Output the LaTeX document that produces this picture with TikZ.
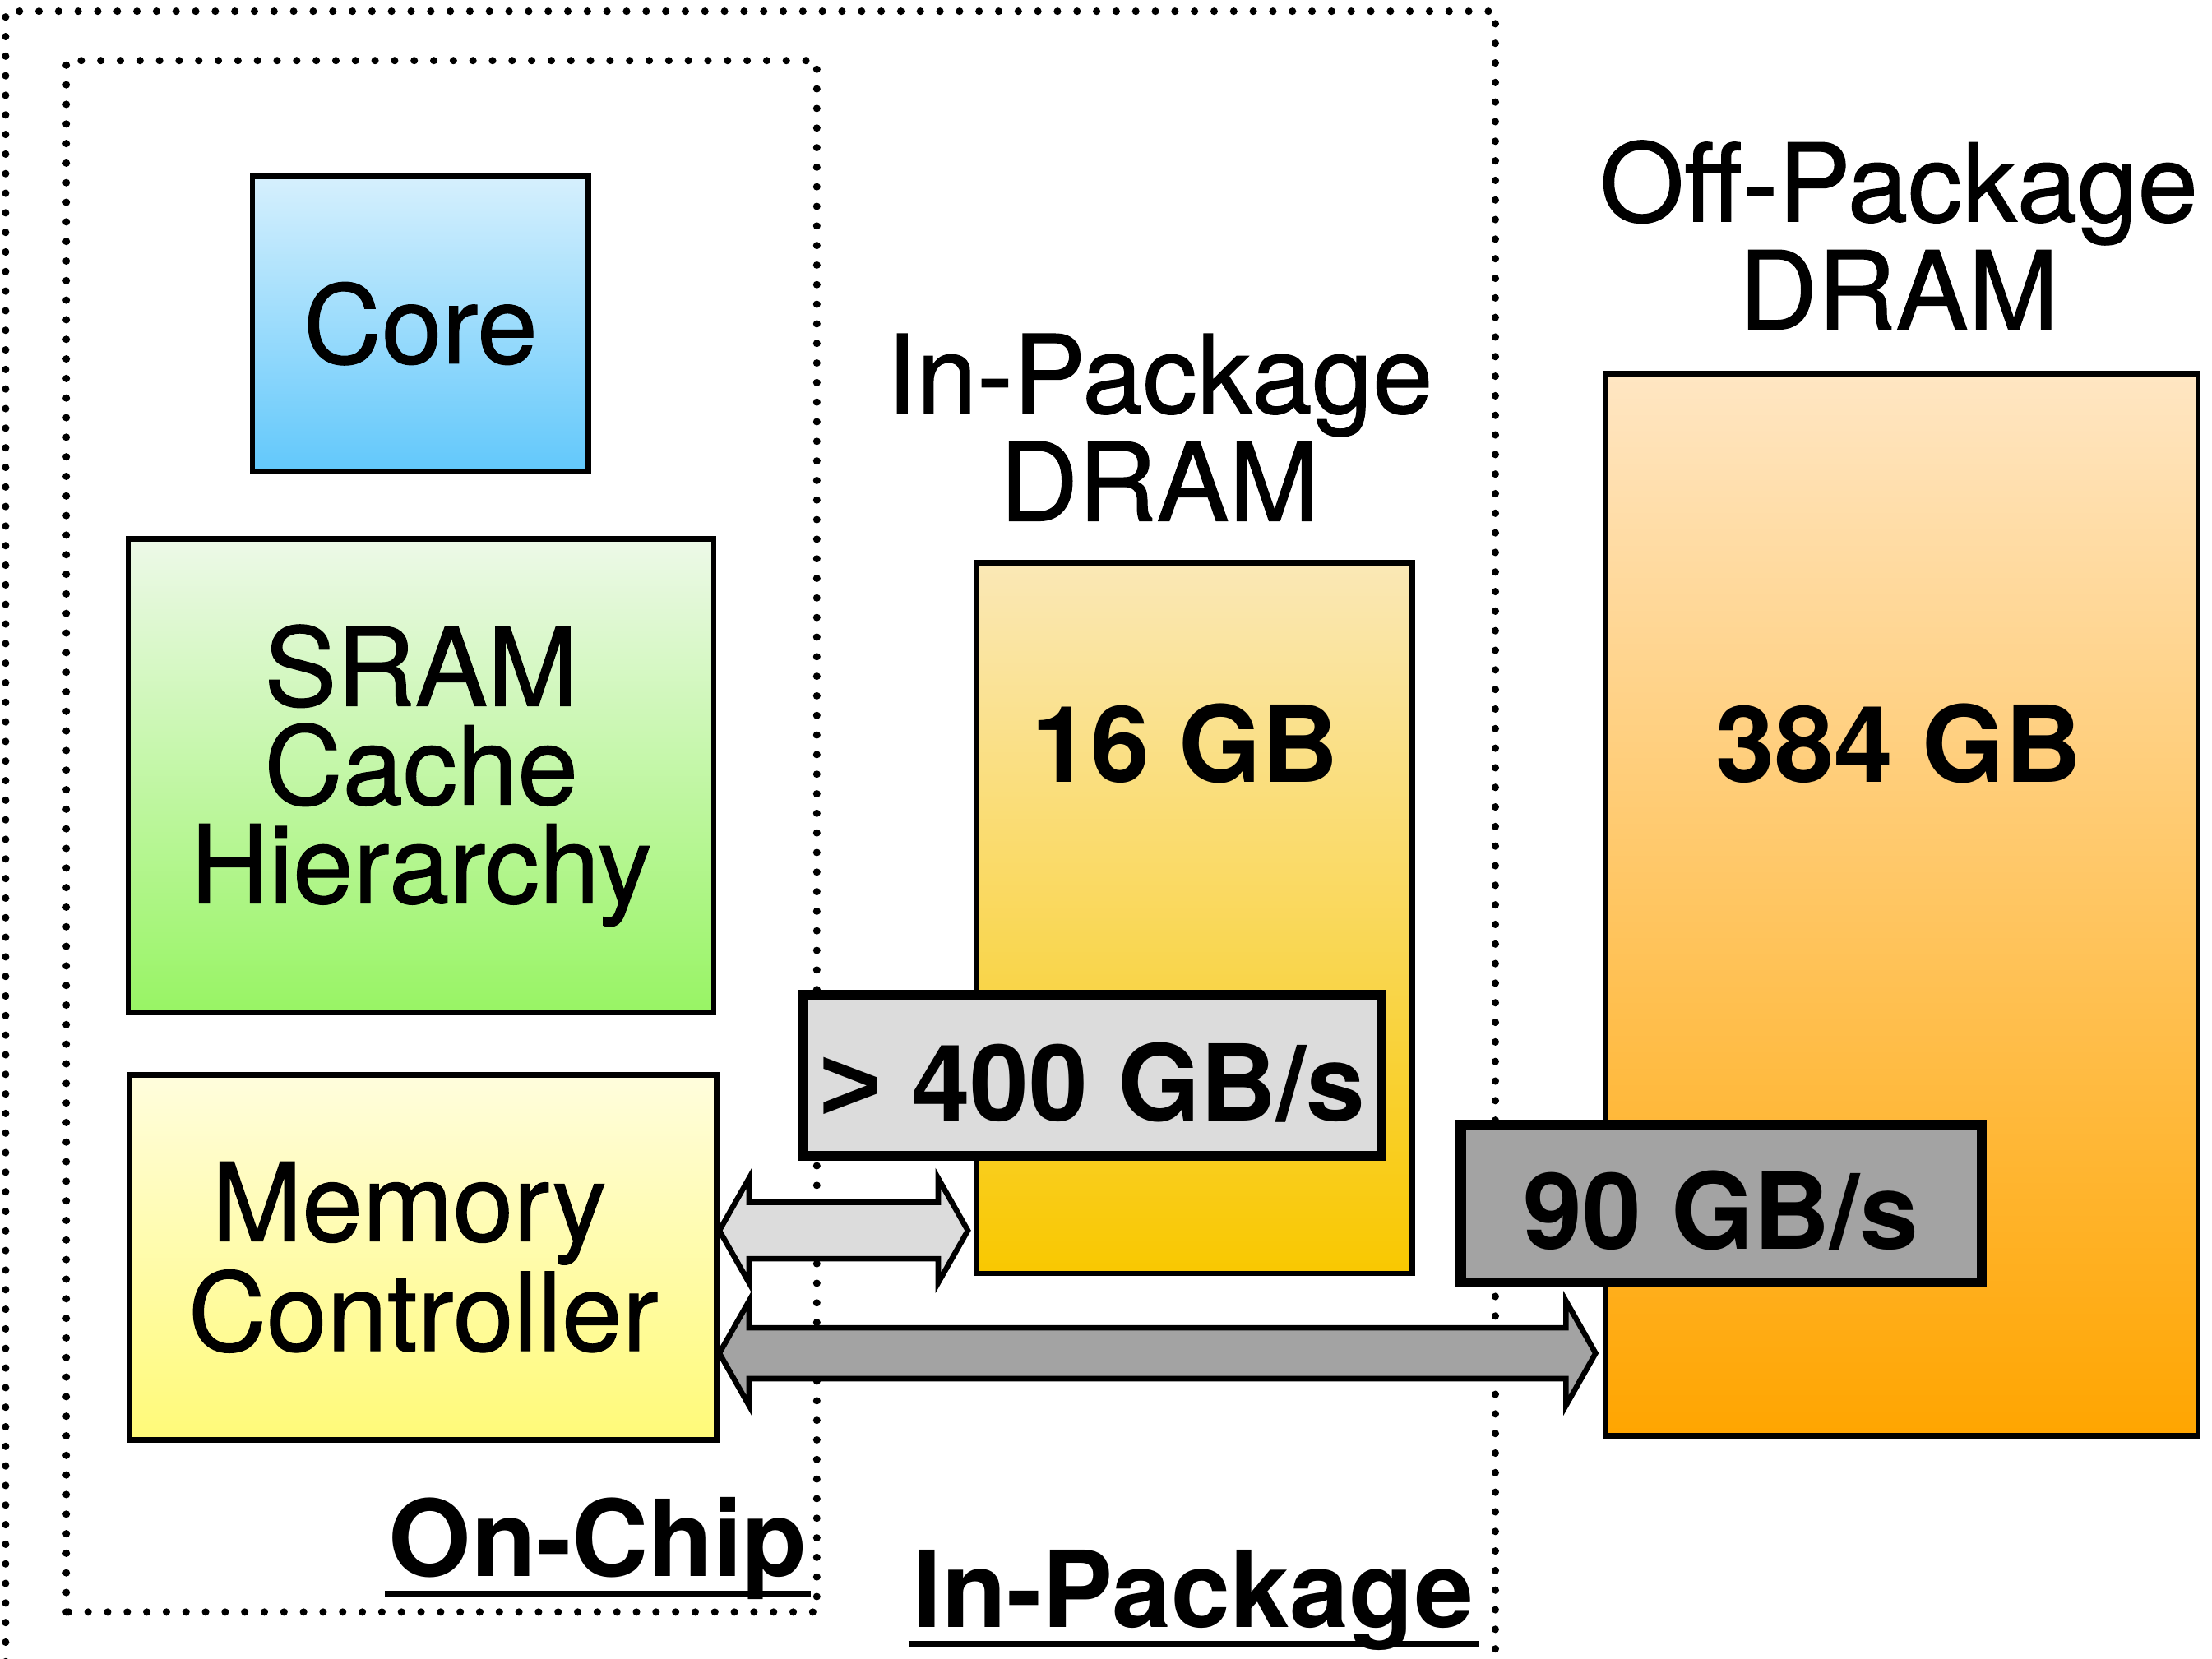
\documentclass[tikz,border=0pt]{standalone}
\usepackage{fontspec}
\setmainfont{TeX Gyre Heros}
\newfontfamily\mediumfont[FakeBold=0.9]{TeX Gyre Heros}
\newfontfamily\arialfont{Liberation Sans}
\usetikzlibrary{calc}

\definecolor{coretop}{HTML}{D6F0FD}
\definecolor{corebot}{HTML}{62C8FB}
\definecolor{sramtop}{HTML}{EDF9E8}
\definecolor{srambot}{HTML}{98F464}
\definecolor{mctop}{HTML}{FFFDDD}
\definecolor{mcbot}{HTML}{FFFA78}
\definecolor{hbmtop}{HTML}{FAE8B6}
\definecolor{hbmbot}{HTML}{F9C800}
\definecolor{ddrtop}{HTML}{FFE6C3}
\definecolor{ddrbot}{HTML}{FFA500}
\definecolor{fastgray}{HTML}{DCDCDC}
\definecolor{slowgray}{HTML}{A3A3A3}

\newcommand{\plainsize}{\fontsize{21.4}{19.9}\selectfont}
\newcommand{\namesize}{\fontsize{21.9}{19.9}\selectfont}

% double block arrow between two points on one level: from, to, fill, half shaft
\newcommand{\linkarrow}[4]{%
  \draw[arrowbody, fill=#3] (#1) -- ++(0.21,0.37) -- ++(0,#4-0.37)
    -- ($(#2)+(-0.21,#4)$) -- ++(0,0.37-#4) -- (#2) -- ++(-0.21,-0.37)
    -- ++(0,0.37-#4) -- ($(#1)+(0.21,-#4)$) -- ++(0,#4-0.37) -- cycle;}

\tikzset{
  dotline/.style={line width=1.5pt, dash pattern=on 0pt off 3.95pt, line cap=round},
  unit/.style={draw, line width=1.1pt, inner sep=0pt, align=center, font=\mediumfont\namesize},
  title/.style={align=center, inner sep=0pt, font=\mediumfont\namesize},
  size/.style={inner sep=0pt, font=\bfseries\plainsize},
  bwbox/.style={draw, line width=2pt, inner sep=0pt, text height=18.3pt, text depth=0pt,
    font=\bfseries\plainsize},
  region/.style={inner sep=0pt, font=\bfseries\plainsize},
  uline/.style={line width=1.3pt},
  arrowbody/.style={line width=1.1pt, line join=miter}
}

\begin{document}
\begin{tikzpicture}
  \useasboundingbox (0,0) rectangle (15.68,11.76);

  % package and chip borders
  \draw[dotline] (0.04,-0.3) -- (0.04,11.68) -- (10.60,11.68) -- (10.60,-0.3);
  \draw[dotline] (0.47,0.33) rectangle (5.79,11.33);

  % blocks on the chip
  \node[unit, minimum width=2.38cm, minimum height=2.09cm,
        top color=coretop, bottom color=corebot] (core) at (2.98,9.465) {Core};
  \node[unit, minimum width=4.15cm, minimum height=3.36cm,
        top color=sramtop, bottom color=srambot] (sram) at (2.985,6.26) {SRAM\\Cache\\Hierarchy};
  \node[unit, minimum width=4.16cm, minimum height=2.59cm,
        top color=mctop, bottom color=mcbot] (mc) at (3.00,2.845) {Memory\hspace*{0.2cm}\\Controller};

  % DRAM stacks
  \node[unit, minimum width=3.09cm, minimum height=5.04cm,
        top color=hbmtop, bottom color=hbmbot] (hbm) at (8.465,5.25) {};
  \node[unit, minimum width=4.20cm, minimum height=7.53cm,
        top color=ddrtop, bottom color=ddrbot] (ddr) at (13.48,5.345) {};

  \node[title] (hbmtitle) at (8.22,8.73) {In-Package\\DRAM};
  \node[title] (ddrtitle) at (13.46,10.095) {Off-Package\\DRAM};
  \node[size] (hbmsize) at (8.40,6.49) {16 GB};
  \node[size] (ddrsize) at (13.46,6.49) {384 GB};

  % bandwidth tags
  \node[bwbox, fill=fastgray, minimum width=4.10cm, minimum height=1.14cm] (fastbw) at (7.745,4.135) {{\arialfont >} 400 GB/s};
  \node[bwbox, fill=slowgray, minimum width=3.69cm, minimum height=1.12cm] (slowbw) at (12.20,3.225) {90 GB/s};

  % links to memory
  \coordinate (fastL) at ([yshift=0.19cm]mc.east);
  \coordinate (fastR) at ($(hbm.west |- fastL)+(-0.04,0)$);
  \coordinate (slowL) at ([yshift=-0.68cm]mc.east);
  \coordinate (slowR) at ($(ddr.west |- slowL)+(-0.05,0)$);
  \linkarrow{fastL}{fastR}{fastgray}{0.20}
  \linkarrow{slowL}{slowR}{slowgray}{0.18}

  % region names
  \node[region, anchor=base east] (onchip) at (5.73,0.58) {On-Chip};
  \node[region, anchor=base west] (inpkg) at (6.46,0.22) {In-Package};
  \draw[uline] ([shift={(-0.02,-0.12)}]onchip.base west) -- ([shift={(0.02,-0.12)}]onchip.base east);
  \draw[uline] ([shift={(-0.02,-0.12)}]inpkg.base west) -- ([shift={(0.03,-0.12)}]inpkg.base east);
\end{tikzpicture}
\end{document}
